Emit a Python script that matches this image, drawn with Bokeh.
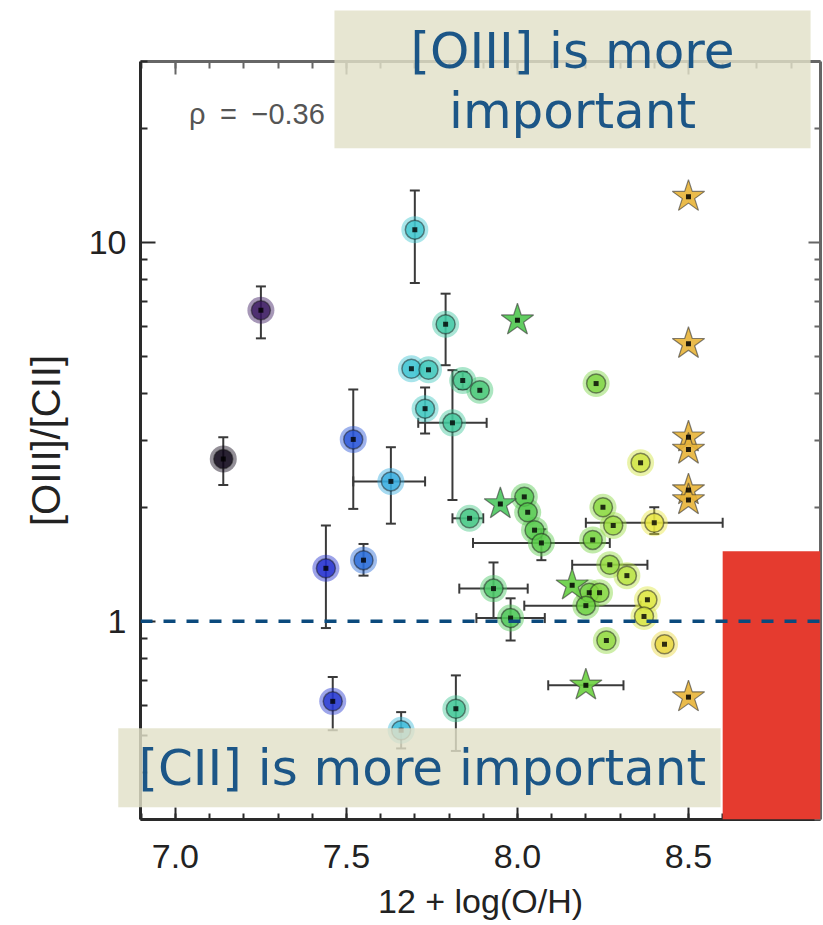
import numpy as np
from bokeh.plotting import figure
from bokeh.models import (ColumnDataSource, LinearColorMapper, Whisker, TeeHead, Span,
                          BoxAnnotation, Label, FixedTicker, LogAxis, LinearAxis, Range1d,
                          NumeralTickFormatter, BasicTickFormatter, CustomJSTickFormatter)
from bokeh.transform import transform
from bokeh.embed import file_html
from bokeh.resources import INLINE

# ---------------- data ----------------
# circles: 12 + log(O/H) and [OIII]/[CII]
circ_x = [7.14, 7.25, 7.52, 7.63, 7.44, 7.55, 7.46, 7.66, 7.70, 7.79,
          7.69, 7.74, 7.73, 7.81, 7.84, 7.89, 8.23, 8.36, 7.86, 8.02,
          8.03, 8.05, 8.07, 8.22, 8.25, 8.28, 8.40, 8.27, 8.32, 7.93,
          7.98, 8.21, 8.24, 8.20, 8.38, 8.37, 8.26, 8.43, 7.82]
circ_y = [2.68, 6.62, 3.02, 2.34, 1.38, 1.45, 0.615, 0.516, 10.8, 6.08,
          4.64, 4.61, 3.64, 3.34, 4.32, 4.07, 4.24, 2.62, 1.87, 2.13,
          1.94, 1.74, 1.61, 1.64, 2.00, 1.79, 1.82, 1.41, 1.32, 1.22,
          1.02, 1.19, 1.19, 1.10, 1.14, 1.03, 0.89, 0.87, 0.588]

# stars
star_x = [8.00, 7.95, 8.16, 8.20, 8.50, 8.50, 8.50, 8.50, 8.50, 8.50, 8.50]
star_y = [6.23, 2.04, 1.245, 0.678, 13.2, 5.40, 3.06, 2.84, 2.22, 2.09, 0.631]

# vertical error bars
yerr_x = [7.14, 7.25, 7.52, 7.63, 7.44, 7.55, 7.46, 7.66, 7.70, 7.79,
          7.73, 7.81, 7.84, 8.07, 8.40, 7.93, 7.98, 7.82]
yerr_lo = [2.29, 5.58, 1.98, 1.81, 0.96, 1.32, 0.516, 0.462, 7.81, 4.74,
           3.13, 2.09, 4.10, 1.45, 1.70, 1.02, 0.89, 0.455]
yerr_hi = [3.06, 7.65, 4.09, 2.88, 1.79, 1.60, 0.713, 0.576, 13.7, 7.32,
           4.14, 4.60, 4.55, 1.75, 2.00, 1.43, 1.15, 0.72]

# horizontal error bars
xerr_y = [2.34, 3.34, 1.87, 1.61, 1.82, 1.41, 1.22, 1.02, 1.10, 0.678]
xerr_lo = [7.52, 7.71, 7.81, 7.87, 8.20, 8.16, 7.83, 7.88, 8.02, 8.09]
xerr_hi = [7.73, 7.91, 7.90, 8.27, 8.60, 8.38, 8.03, 8.08, 8.36, 8.31]

rho_text = "ρ\u2002=\u2002−0.36"
x_major = [7.0, 7.5, 8.0, 8.5]
x_minor = [round(6.9 + 0.1 * i, 1) for i in range(21)]
y_major = [1, 10]
y_minor = [0.3, 0.4, 0.5, 0.6, 0.7, 0.8, 0.9, 2, 3, 4, 5, 6, 7, 8, 9, 20, 30]

# ---------------- colour table (by metallicity) ----------------
anchors = [(7.10, "#000000"), (7.25, "#3a1860"), (7.40, "#2020c8"), (7.50, "#2848d8"),
           (7.56, "#2872d8"), (7.63, "#38b0e0"), (7.70, "#40c8d0"), (7.80, "#40c8a0"),
           (7.90, "#48c870"), (8.00, "#50c850"), (8.20, "#6ad040"), (8.30, "#a8e040"),
           (8.40, "#e8e840"), (8.50, "#e8b438")]


def h2r(h):
    return [int(h[i:i + 2], 16) for i in (1, 3, 5)]


pal = []
for i in range(256):
    v = 7.1 + 1.4 * i / 255
    for (a, ca), (b, cb) in zip(anchors[:-1], anchors[1:]):
        if a <= v <= b + 1e-9:
            t = (v - a) / (b - a)
            r1, r2 = h2r(ca), h2r(cb)
            c = [int(round(r1[k] + (r2[k] - r1[k]) * t)) for k in range(3)]
            pal.append("#%02x%02x%02x" % tuple(c))
            break
mapper = LinearColorMapper(palette=pal, low=7.1, high=8.5)

# ---------------- geometry ----------------
W, H = 823, 925
BL, BR, BT, BB = 140, 3, 61, 106
XR = (6.898, 8.886)
YR = (0.3, 30.0)

p = figure(width=W, height=H, y_axis_type="log",
           x_range=XR, y_range=YR,
           output_backend="svg", toolbar_location=None,
           min_border_left=BL, min_border_right=BR, min_border_top=BT, min_border_bottom=BB)
p.grid.visible = False
p.outline_line_color = None
p.background_fill_color = "white"
p.border_fill_color = "white"

TICK_FONT = "Liberation Sans"


def style_axis(ax, major_in, minor_in, color, lw):
    ax.major_tick_in = major_in
    ax.major_tick_out = 0
    ax.minor_tick_in = minor_in
    ax.minor_tick_out = 0
    ax.axis_line_width = lw
    ax.axis_line_color = color
    ax.major_tick_line_width = 2
    ax.minor_tick_line_width = 2
    ax.major_tick_line_color = color
    ax.minor_tick_line_color = color


xa = p.xaxis[0]
xa.ticker = FixedTicker(ticks=x_major, minor_ticks=x_minor)
xa.formatter = NumeralTickFormatter(format="0.0")
style_axis(xa, 12, 6, "#2a2a2a", 3)
xa.major_label_text_font = TICK_FONT
xa.major_label_text_font_size = "34px"
xa.major_label_text_color = "#222222"
xa.major_label_standoff = 25
xa.axis_label = "12 + log(O/H)"
xa.axis_label_text_font = TICK_FONT
xa.axis_label_text_font_size = "34px"
xa.axis_label_text_font_style = "normal"
xa.axis_label_text_color = "#222222"
xa.axis_label_standoff = 11

ya = p.yaxis[0]
ya.ticker = FixedTicker(ticks=y_major, minor_ticks=y_minor)
ya.formatter = BasicTickFormatter()
style_axis(ya, 15, 7, "#2a2a2a", 3)
ya.major_label_text_font = TICK_FONT
ya.major_label_text_font_size = "34px"
ya.major_label_text_color = "#222222"
ya.major_label_standoff = 14
ya.axis_label = "[OIII]/[CII]"
ya.axis_label_text_font = TICK_FONT
ya.axis_label_text_font_size = "40px"
ya.axis_label_text_font_style = "normal"
ya.axis_label_text_color = "#222222"
ya.axis_label_standoff = 18

blank = CustomJSTickFormatter(code="return '';")
top_ax = LinearAxis(ticker=FixedTicker(ticks=x_major, minor_ticks=x_minor),
                    formatter=blank, major_label_standoff=0)
style_axis(top_ax, 13, 7, "#666666", 3)
p.add_layout(top_ax, "above")

right_ax = LogAxis(ticker=FixedTicker(ticks=y_major, minor_ticks=y_minor),
                   formatter=blank, major_label_standoff=0)
style_axis(right_ax, 12, 6, "#666666", 3)
p.add_layout(right_ax, "right")

# ---------------- error bars ----------------
ERR = "#3a3a3a"
src_ye = ColumnDataSource(dict(x=yerr_x, lo=yerr_lo, hi=yerr_hi))
p.add_layout(Whisker(source=src_ye, base="x", lower="lo", upper="hi", dimension="height",
                     line_color=ERR, line_width=2,
                     upper_head=TeeHead(size=10, line_color=ERR, line_width=2),
                     lower_head=TeeHead(size=10, line_color=ERR, line_width=2)))
src_xe = ColumnDataSource(dict(y=xerr_y, lo=xerr_lo, hi=xerr_hi))
p.add_layout(Whisker(source=src_xe, base="y", lower="lo", upper="hi", dimension="width",
                     line_color=ERR, line_width=2,
                     upper_head=TeeHead(size=10, line_color=ERR, line_width=2),
                     lower_head=TeeHead(size=10, line_color=ERR, line_width=2)))

# ---------------- markers ----------------
src_c = ColumnDataSource(dict(x=circ_x, y=circ_y))
src_s = ColumnDataSource(dict(x=star_x, y=star_y))
cmap = transform("x", mapper)

p.scatter("x", "y", source=src_c, marker="circle", size=27, fill_color=cmap,
          fill_alpha=0.45, line_color=None)
p.scatter("x", "y", source=src_c, marker="circle", size=19, fill_color=cmap,
          fill_alpha=0.8, line_color="#1a1a1a", line_alpha=0.5, line_width=1.5)
p.scatter("x", "y", source=src_c, marker="square", size=5, fill_color="black",
          fill_alpha=0.8, line_color=None)

p.scatter("x", "y", source=src_s, marker="star", size=34, fill_color=cmap,
          fill_alpha=0.9, line_color="#333333", line_alpha=0.6, line_width=1.2)
p.scatter("x", "y", source=src_s, marker="square", size=5, fill_color="black",
          fill_alpha=0.85, line_color=None)

# ---------------- in-frame annotations ----------------
p.add_layout(BoxAnnotation(left=8.6, top=1.53, fill_color="#e53b2f", fill_alpha=1.0,
                           line_color=None))
p.add_layout(Span(location=1, dimension="width", line_color="#0b4a7d",
                  line_width=3.5, line_dash="12 11"))
p.add_layout(Label(x=7.04, y=21.8, text=rho_text, text_baseline="alphabetic",
                   text_font=TICK_FONT, text_font_size="29px", text_color="#555555"))

# ---------------- overlay (callout boxes that cross the axes) ----------------
# a second, axis-less plot laid exactly over the first one, with the same data scale
kx = (XR[1] - XR[0]) / (W - BL - BR)
ly0, ly1 = np.log10(YR[0]), np.log10(YR[1])
ky = (ly1 - ly0) / (H - BT - BB)
ov = figure(width=W, height=H, y_axis_type="log",
            x_range=Range1d(XR[0] - BL * kx, XR[1] + BR * kx),
            y_range=Range1d(10 ** (ly0 - BB * ky), 10 ** (ly1 + BT * ky)),
            x_axis_location=None, y_axis_location=None,
            output_backend="svg", toolbar_location=None, min_border=0)
ov.grid.visible = False
ov.outline_line_color = None
ov.background_fill_alpha = 0
ov.border_fill_alpha = 0
ov.styles = {"position": "absolute", "top": "0px", "left": "0px"}

BOX_FILL = "#e2e0c8"
TXT = "#0b4a80"
ov.add_layout(BoxAnnotation(left=7.465, right=8.857, bottom=17.7, top=40.9,
                            fill_color=BOX_FILL, fill_alpha=0.82, line_color=None))
ov.add_layout(Label(x=8.161, y=31.9, text="[OIII] is more", text_align="center",
                    text_baseline="alphabetic", text_font="DejaVu Sans",
                    text_font_size="50px", text_color=TXT, text_alpha=0.92))
ov.add_layout(Label(x=8.161, y=22.2, text="important", text_align="center",
                    text_baseline="alphabetic", text_font="DejaVu Sans",
                    text_font_size="50px", text_color=TXT, text_alpha=0.92))

ov.add_layout(BoxAnnotation(left=6.833, right=8.594, bottom=0.323, top=0.522,
                            fill_color=BOX_FILL, fill_alpha=0.82, line_color=None))
ov.add_layout(Label(x=6.892, y=0.409, text="[CII] is more important", text_align="left",
                    text_baseline="alphabetic", text_font="DejaVu Sans",
                    text_font_size="50px", text_color=TXT, text_alpha=0.92))

open("out.html", "w").write(file_html([p, ov], INLINE))
